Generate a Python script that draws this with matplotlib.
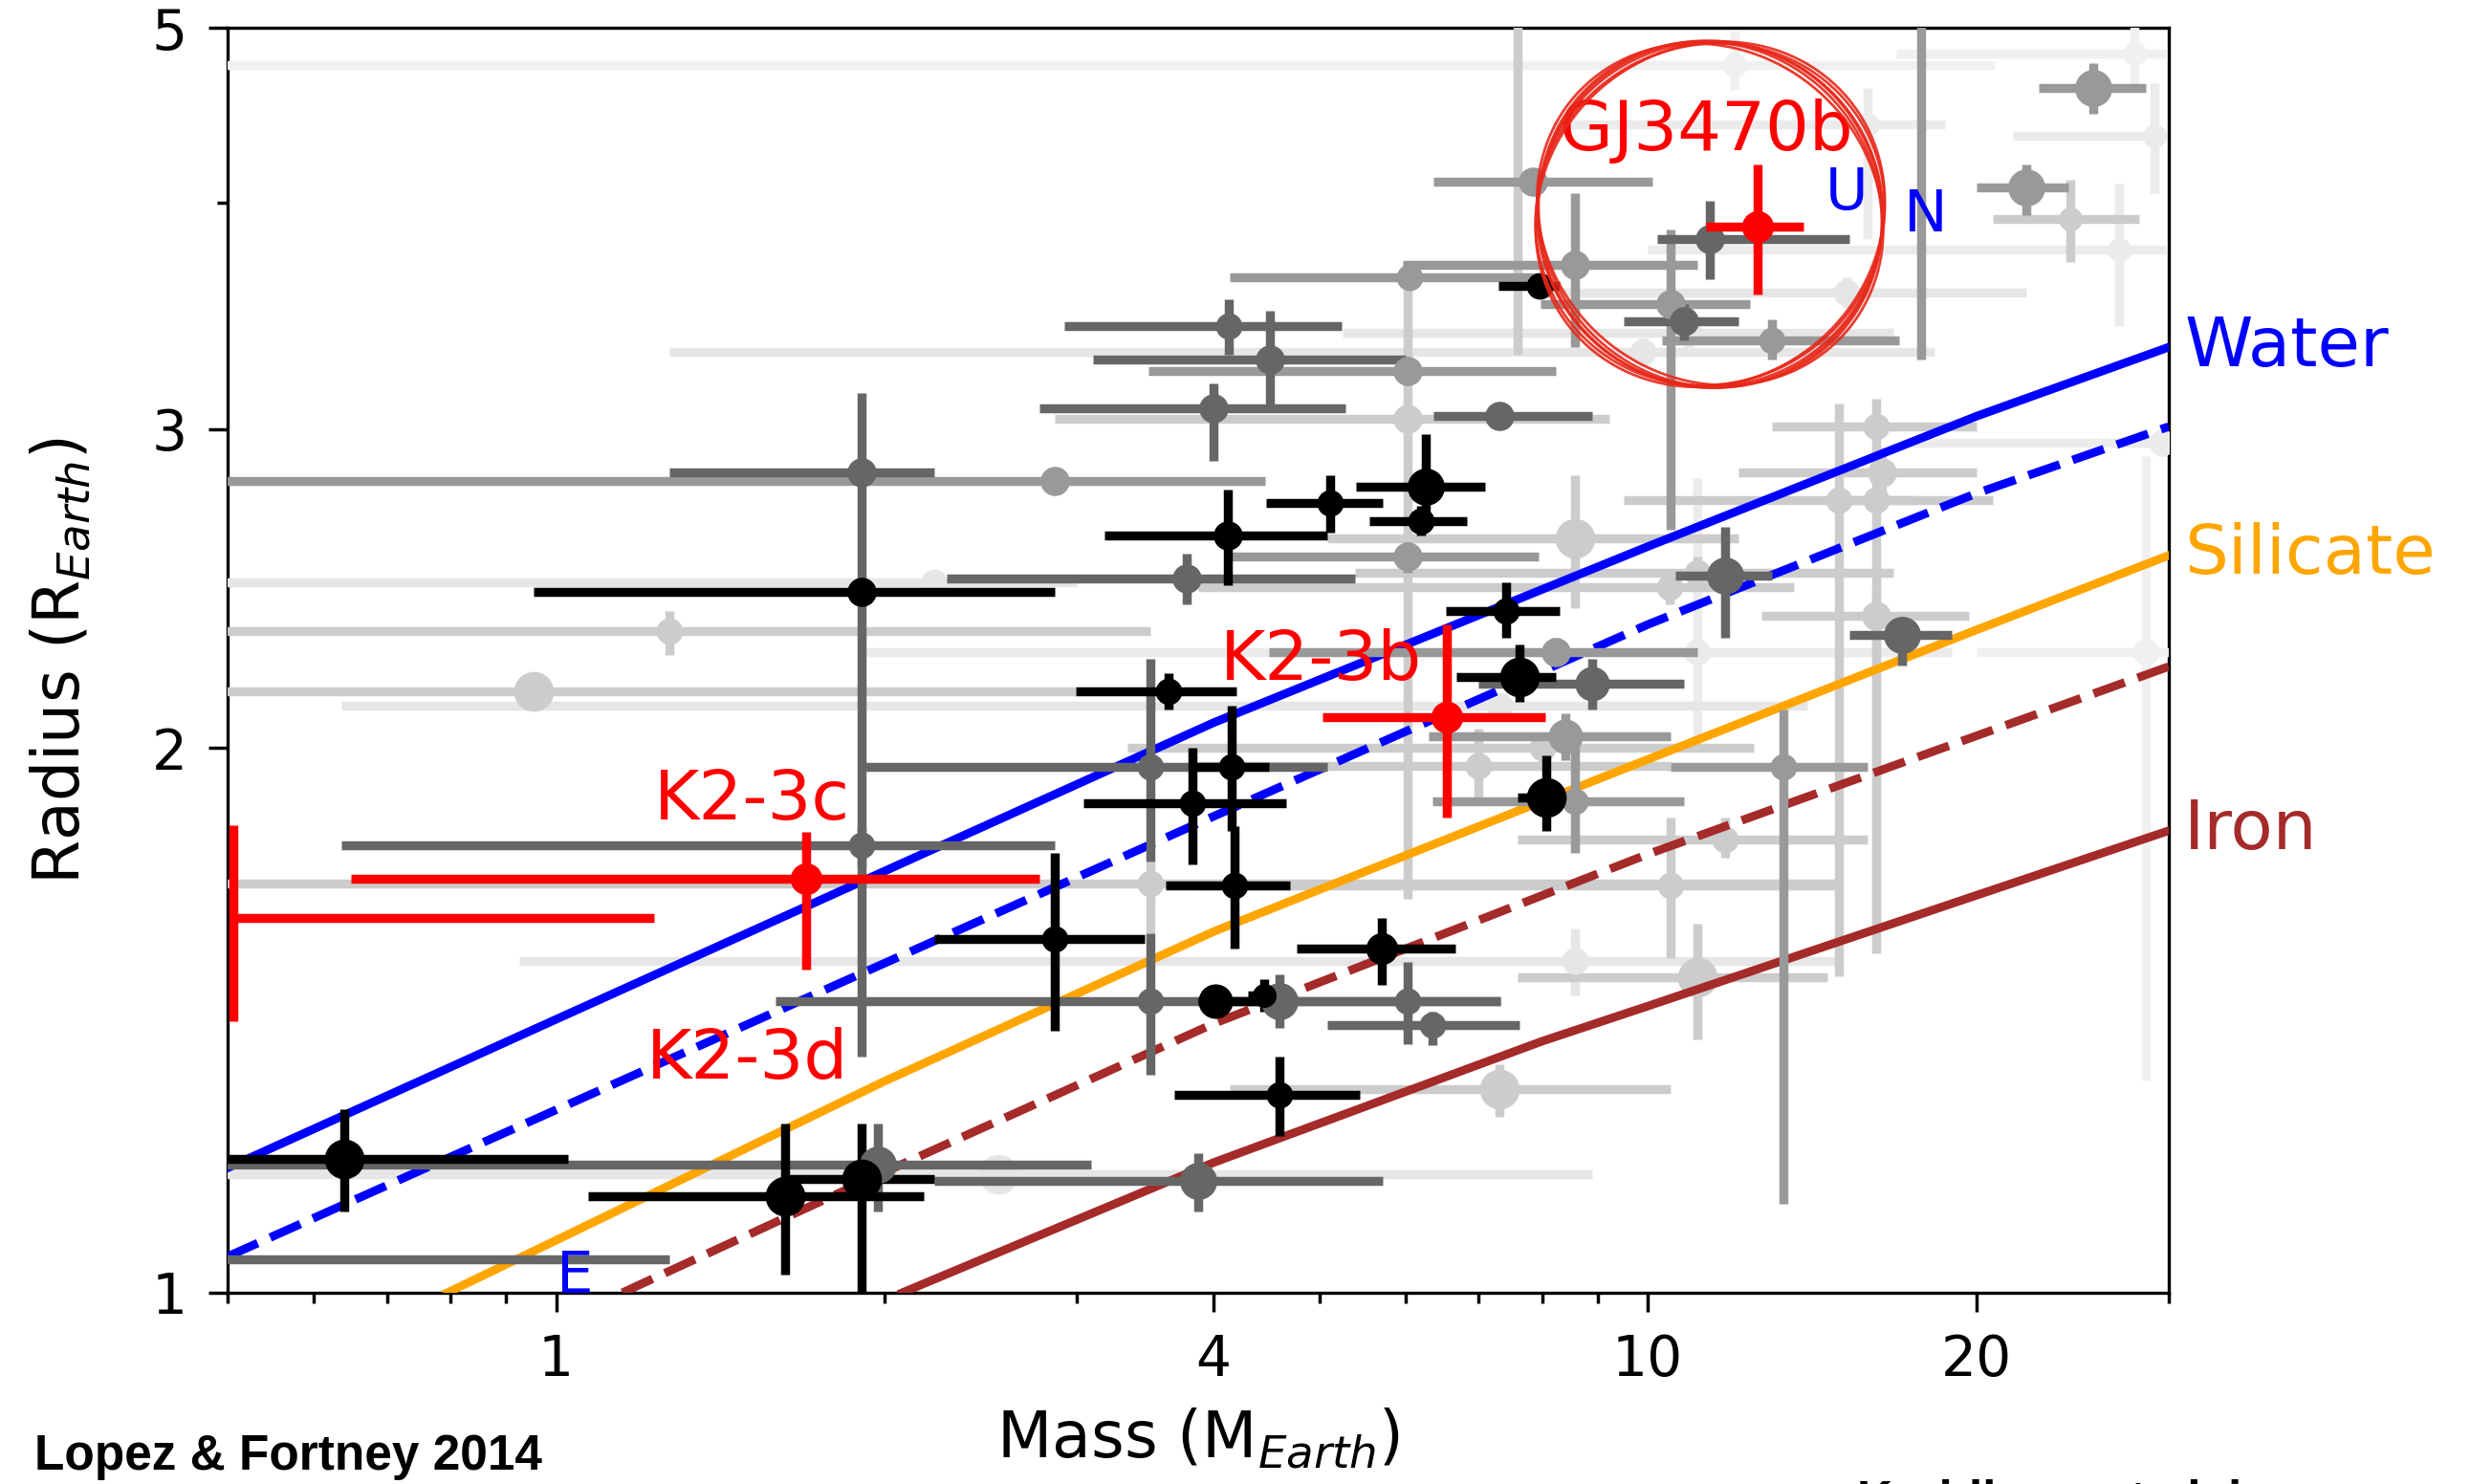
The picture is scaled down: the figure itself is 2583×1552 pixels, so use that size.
import matplotlib
matplotlib.use("Agg")
import matplotlib.pyplot as plt
from matplotlib.patches import Ellipse
from matplotlib.ticker import FixedLocator, NullFormatter, LogLocator

# known planets: mass, radius and the ends of their error bars
MASS = [12.0, 27.9, 25.6, 29.1, 22.2, 24.4, 27.0, 15.9, 17.8, 7.6,
        7.85, 8.57, 11.4, 7.96, 6.05, 6.03, 6.03, 4.13, 4.51, 4.00,
        7.31, 15.2, 10.9, 9.9, 13.0, 10.5, 10.8, 1.905, 2.86, 1.905,
        2.22, 3.78, 1.27, 0.954, 7.31, 3.64, 5.12, 6.26, 6.20, 4.12,
        6.03, 8.57, 7.42, 11.76, 11.1, 10.47, 16.2, 16.4, 14.96, 16.2,
        16.2, 29.6, 28.6, 17.1, 7.63, 8.23, 11.1, 8.90, 8.40, 7.00,
        8.00, 8.08, 8.57, 13.3, 11.76, 10.5, 3.50, 4.18, 4.16, 3.50,
        3.83, 2.86, 8.57, 11.1, 5.71, 3.50, 4.60, 6.03, 4.02, 4.45,
        6.35, 7.31, 4.60, 3.87, 2.54, 1.97, 1.905, 1.62, 0.639, 0.45,
        1.905]
RADIUS = [4.77, 4.84, 4.63, 4.36, 4.08, 3.92, 3.77, 4.42, 4.00, 4.10,
          4.11, 3.70, 3.82, 3.60, 3.64, 3.23, 3.04, 3.42, 3.28, 3.08,
          3.05, 3.57, 3.39, 3.31, 3.36, 3.52, 3.44, 2.84, 2.81, 2.44,
          2.47, 2.48, 2.32, 2.15, 2.11, 2.15, 2.73, 2.79, 2.67, 2.62,
          2.55, 2.61, 2.38, 2.49, 2.50, 2.455, 3.01, 2.84, 2.74, 2.74,
          2.365, 2.95, 2.26, 2.31, 2.19, 2.26, 2.26, 2.17, 2.03, 1.955,
          2.00, 1.877, 1.868, 1.952, 1.78, 1.68, 1.683, 1.68, 1.952, 1.952,
          1.865, 1.569, 1.525, 1.494, 1.549, 1.449, 1.449, 1.449, 1.449, 1.46,
          1.405, 1.296, 1.286, 1.153, 1.163, 1.177, 1.155, 1.131, 1.186, 1.043,
          1.766]
MASS_LO = [0.40, 16.9, 22.8, 21.6, 20.0, 20.7, 10.0, 8.17, 17.8, 7.6,
           6.36, 5.96, 10.2, 7.3, 4.14, 3.49, 2.86, 2.92, 3.10, 2.77,
           6.36, 8.0, 5.25, 1.27, 10.3, 7.97, 9.5, 1.27, 0.40, 0.954,
           0.40, 2.28, 0.40, 0.40, 0.636, 2.99, 4.47, 5.40, 5.56, 3.18,
           4.14, 5.09, 6.53, 10.6, 5.39, 3.87, 13.0, 12.1, 9.5, 15.0,
           12.7, 17.3, 20.0, 15.3, 6.68, 4.50, 1.905, 7.00, 6.30, 3.87,
           3.34, 7.60, 6.35, 10.5, 7.60, 3.87, 0.40, 3.62, 3.80, 1.92,
           3.04, 2.22, 0.926, 7.60, 4.77, 1.59, 4.00, 4.60, 3.87, 4.30,
           5.09, 4.14, 3.68, 2.22, 0.40, 0.40, 1.62, 1.07, 0.40, 0.40,
           0.636]
MASS_HI = [20.8, 29.8, 28.6, 29.8, 24.3, 28.2, 29.8, 18.7, 17.8, 7.6,
           10.1, 11.1, 15.3, 8.3, 7.94, 8.24, 9.22, 5.24, 6.00, 5.29,
           8.89, 22.2, 16.8, 18.3, 17.0, 12.4, 12.1, 2.22, 4.46, 2.86,
           3.00, 5.39, 3.50, 2.99, 14.0, 4.20, 5.72, 7.10, 6.83, 5.09,
           7.94, 12.1, 8.30, 13.0, 16.8, 13.6, 20.0, 20.0, 20.7, 17.5,
           19.7, 29.8, 30.5, 19.0, 8.23, 11.1, 19.0, 10.8, 10.5, 10.5,
           12.5, 8.60, 10.8, 15.9, 15.9, 14.9, 14.9, 4.70, 4.50, 5.09,
           4.66, 3.46, 14.9, 14.6, 6.66, 4.60, 7.33, 7.33, 4.53, 4.60,
           7.63, 10.5, 5.45, 5.72, 8.90, 3.09, 2.22, 2.17, 1.025, 1.27,
           2.86]
RAD_LO = [4.62, 4.62, 4.48, 4.05, 3.94, 3.71, 3.42, 3.82, 3.28, 3.30,
          4.05, 3.33, 3.63, 3.55, 3.60, 3.20, 1.65, 3.30, 3.08, 2.88,
          3.00, 3.50, 3.33, 3.25, 3.28, 2.64, 3.36, 1.35, 2.78, 2.40,
          2.44, 2.40, 2.25, 2.12, 2.08, 2.10, 2.63, 2.68, 2.62, 2.46,
          2.50, 2.39, 2.30, 2.30, 2.45, 2.40, 1.54, 2.75, 1.496, 2.70,
          1.60, 2.90, 1.31, 2.22, 2.12, 2.22, 2.00, 2.10, 1.97, 1.87,
          1.96, 1.80, 1.75, 1.12, 1.74, 1.53, 1.58, 1.55, 1.80, 1.73,
          1.725, 1.395, 1.46, 1.38, 1.48, 1.32, 1.40, 1.372, 1.42, 1.43,
          1.37, 1.251, 1.22, 1.109, 1.14, 1.109, 0.95, 1.023, 1.109, 1.04,
          1.72]
RAD_HI = [4.98, 5.10, 4.78, 4.66, 4.20, 4.12, 4.10, 4.63, 5.30, 5.30,
          4.17, 4.05, 4.01, 3.65, 3.68, 3.26, 3.64, 3.54, 3.49, 3.18,
          3.10, 3.64, 3.45, 3.37, 3.45, 3.87, 3.52, 3.14, 2.84, 2.48,
          2.50, 2.56, 2.38, 2.18, 2.14, 2.20, 2.83, 2.98, 2.72, 2.78,
          2.60, 2.83, 2.47, 2.65, 2.55, 2.51, 3.12, 2.93, 3.10, 2.78,
          2.45, 3.00, 2.90, 2.36, 2.28, 2.30, 2.82, 2.24, 2.09, 2.05,
          2.04, 1.98, 2.02, 2.10, 1.83, 1.83, 1.73, 1.81, 2.11, 2.24,
          2.00, 1.75, 1.59, 1.60, 1.61, 1.58, 1.50, 1.524, 1.48, 1.49,
          1.43, 1.338, 1.35, 1.195, 1.18, 1.24, 1.24, 1.24, 1.263, 1.046,
          1.81]
# grey level of each planet (0 = black) and its marker size in points
SHADE = [0.94, 0.94, 0.60, 0.92, 0.60, 0.80, 0.92, 0.92, 0.60, 0.80,
         0.60, 0.60, 0.40, 0.00, 0.60, 0.60, 0.80, 0.40, 0.40, 0.40,
         0.40, 0.90, 0.90, 0.90, 0.60, 0.60, 0.40, 0.40, 0.60, 0.00,
         0.90, 0.40, 0.80, 0.80, 0.90, 0.00, 0.00, 0.00, 0.00, 0.00,
         0.60, 0.80, 0.00, 0.40, 0.80, 0.80, 0.80, 0.80, 0.80, 0.80,
         0.80, 0.92, 0.94, 0.40, 0.00, 0.60, 0.92, 0.40, 0.60, 0.80,
         0.80, 0.00, 0.60, 0.60, 0.80, 0.80, 0.80, 0.00, 0.00, 0.40,
         0.00, 0.00, 0.90, 0.80, 0.00, 0.40, 0.40, 0.40, 0.00, 0.00,
         0.40, 0.80, 0.00, 0.40, 0.90, 0.40, 0.00, 0.00, 0.00, 0.40,
         0.40]
MSIZE = [9, 9, 14, 9, 14, 9, 9, 9, 0, 0,
         11, 11, 11, 10, 10, 11, 11, 10, 11, 11,
         11, 10, 10, 10, 10, 11, 11, 11, 11, 11,
         10, 11, 10, 15, 10, 10, 10, 14, 10, 11,
         11, 15, 10, 14, 10, 10, 10, 11, 10, 10,
         11, 10, 10, 14, 15, 11, 10, 13, 13, 10,
         10, 15, 10, 10, 10, 10, 10, 10, 10, 10,
         10, 10, 10, 15, 12, 10, 14, 10, 13, 9,
         10, 15, 10, 14, 15, 14, 15, 15, 15, 10,
         10]

# K2-3 system and GJ3470b
K2_NAMES = ["K2-3b", "K2-3c", "K2-3d", "GJ3470b"]
K2_MASS = [6.55, 1.694, 0.506, 12.6]
K2_RADIUS = [2.08, 1.694, 1.611, 3.88]
K2_MASS_LO = [5.04, 0.649, 0.506, 11.3]
K2_MASS_HI = [8.05, 2.77, 1.23, 13.9]
K2_RAD_LO = [1.83, 1.508, 1.413, 3.56]
K2_RAD_HI = [2.34, 1.798, 1.813, 4.20]
K2_LABEL_AT = [(4.06, 2.18), (1.23, 1.826), (1.21, 1.313), (8.3, 4.28)]

# solar system planets
SOLAR = ["E", "U", "N"]
SOLAR_MASS = [1.0, 14.54, 17.15]
SOLAR_RADIUS = [1.0, 3.97, 3.86]

# composition curves
WATER_M = [0.5, 1, 2, 4, 10, 20, 30]
WATER_R = [1.172, 1.416, 1.71, 2.065, 2.584, 3.05, 3.33]
WATER50_M = [0.5, 1, 2, 4, 10, 20, 30]
WATER50_R = [1.047, 1.262, 1.521, 1.833, 2.34, 2.765, 3.01]
SIL_M = [0.795, 1, 2, 4, 10, 20, 30]
SIL_R = [1.0, 1.069, 1.309, 1.583, 1.971, 2.324, 2.555]
IRON50_M = [1.15, 2, 4, 10, 20, 30]
IRON50_R = [1.0, 1.166, 1.408, 1.747, 2.031, 2.218]
IRON_M = [2.075, 4, 8, 10, 20, 30]
IRON_R = [1.0, 1.18, 1.377, 1.44, 1.658, 1.80]

BLUE = "#0000ff"
ORANGE = "#ffa500"
BROWN = "#a52a2a"
RED = "#ff0000"


def main():
    fig = plt.figure(figsize=(12.915, 7.76), dpi=200)
    ax = fig.add_axes([0.0921, 0.1289, 0.7859, 0.8524])
    ax.set_xscale("log")
    ax.set_yscale("log")

    # lightest first so the dark points sit on top
    order = sorted(range(len(MASS)), key=lambda i: -SHADE[i])
    for i in order:
        m, r = MASS[i], RADIUS[i]
        g = SHADE[i]
        c = (g, g, g)
        ax.errorbar(m, r, xerr=[[m - MASS_LO[i]], [MASS_HI[i] - m]],
                    yerr=[[r - RAD_LO[i]], [RAD_HI[i] - r]],
                    fmt="o", color=c, ms=MSIZE[i], mew=0, elinewidth=3.4,
                    capsize=0, zorder=3 if g >= 0.75 else 5)

    kw = dict(lw=3.2, zorder=4)
    ax.plot(WATER_M, WATER_R, "-", color=BLUE, **kw)
    ax.plot(WATER50_M, WATER50_R, "--", color=BLUE, dashes=(3.9, 1.6), **kw)
    ax.plot(SIL_M, SIL_R, "-", color=ORANGE, **kw)
    ax.plot(IRON50_M, IRON50_R, "--", color=BROWN, dashes=(3.9, 1.6), **kw)
    ax.plot(IRON_M, IRON_R, "-", color=BROWN, **kw)

    for name, m, r, lo, hi, rlo, rhi, (lx, ly) in zip(
            K2_NAMES, K2_MASS, K2_RADIUS, K2_MASS_LO, K2_MASS_HI,
            K2_RAD_LO, K2_RAD_HI, K2_LABEL_AT):
        ms = 0 if name == "K2-3d" else 12
        ax.errorbar(m, r, xerr=[[m - lo], [hi - m]], yerr=[[r - rlo], [rhi - r]],
                    fmt="o", color=RED, ms=ms, mew=0, elinewidth=3.4, capsize=0,
                    zorder=7, clip_on=False if name == "K2-3d" else True)
        ax.text(lx, ly, name, color=RED, fontsize=26, va="baseline",
                ha="left", zorder=9)

    for name, m, r in zip(SOLAR, SOLAR_MASS, SOLAR_RADIUS):
        ax.text(m, r, name, color=BLUE, fontsize=22, va="baseline",
                ha="left", zorder=9)

    # hand-drawn looking red circle around GJ3470b: a few overlapping strokes
    for w, h, a in ((0.178, 0.272, 0), (0.1765, 0.2735, 3), (0.1795, 0.2705, -3),
                    (0.177, 0.271, 6), (0.179, 0.2735, -5), (0.1775, 0.2745, 1)):
        ax.add_patch(Ellipse((0.7638, 0.8525), w, h, angle=a,
                             transform=ax.transAxes, fill=False,
                             ec="#e8281a", lw=1.0, alpha=0.9, zorder=10))

    for txt, y, c in (("Water", WATER_R[-1], BLUE), ("Silicate", SIL_R[-1], ORANGE),
                      ("Iron", IRON_R[-1], BROWN)):
        ax.text(31.0, y, txt, color=c, fontsize=26, va="center", ha="left",
                clip_on=False)

    ax.set_xlim(0.5, 30)
    ax.set_ylim(1, 5)
    ax.xaxis.set_major_locator(FixedLocator([1, 4, 10, 20]))
    ax.xaxis.set_minor_locator(LogLocator(subs=range(2, 10)))
    ax.xaxis.set_minor_formatter(NullFormatter())
    ax.set_xticklabels(["1", "4", "10", "20"])
    ax.yaxis.set_major_locator(FixedLocator([1, 2, 3, 5]))
    ax.yaxis.set_minor_locator(FixedLocator([4]))
    ax.yaxis.set_minor_formatter(NullFormatter())
    ax.set_yticklabels(["1", "2", "3", "5"])
    ax.tick_params(which="major", length=7.2, width=1.25, labelsize=21, pad=8)
    ax.tick_params(which="minor", length=4, width=1.25)
    for s in ax.spines.values():
        s.set_linewidth(1.2)

    ax.set_xlabel("Mass (M$_{Earth}$)", fontsize=24, labelpad=7)
    ax.set_ylabel("Radius (R$_{Earth}$)", fontsize=24, labelpad=22)

    fig.text(0.0139, 0.0097, "Lopez & Fortney 2014", fontsize=18.5,
             fontweight="bold", family="Liberation Sans", va="baseline")
    # credit line at the bottom right, only its top edge is inside the figure
    fig.text(0.752, -0.0215, "Kreidberg et al. in prep.", fontsize=18.5,
             fontweight="bold", family="Liberation Sans", va="baseline")

    fig.savefig("out.png", dpi=200, facecolor="white")


if __name__ == "__main__":
    main()
